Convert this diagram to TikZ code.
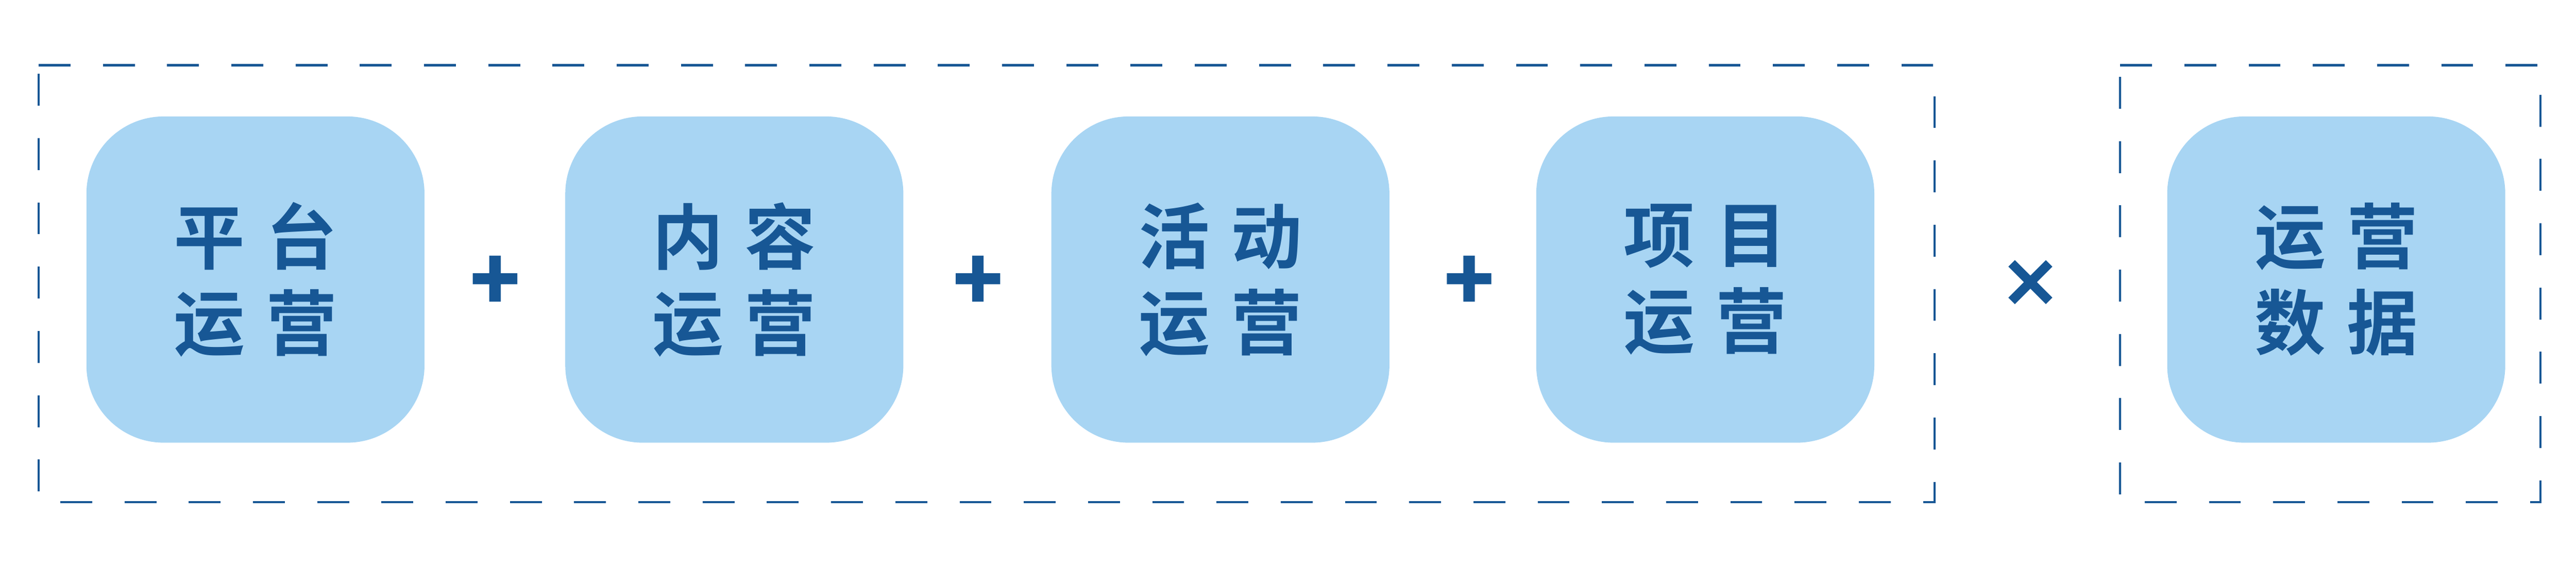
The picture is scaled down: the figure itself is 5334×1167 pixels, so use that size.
\documentclass[tikz,border=0pt]{standalone}
\usepackage{fontspec}
\newfontfamily\cjk{Noto Sans CJK SC}[BoldFont={Noto Sans CJK SC Bold}]
\newfontfamily\opfont{Noto Sans CJK SC}[BoldFont={Noto Sans CJK SC Bold}, FakeBold=3]
\newfontfamily\mulfont{Noto Sans CJK SC}[BoldFont={Noto Sans CJK SC Bold}, FakeBold=5]
\definecolor{dblue}{HTML}{175795}
\definecolor{lblue}{HTML}{A8D5F3}
\tikzset{
  card/.style={fill=lblue, draw=none, rounded corners=32pt, minimum width=140pt, minimum height=135pt, inner sep=0pt, text=dblue, align=center, font=\cjk\bfseries\fontsize{29.4}{35.6}\selectfont},
  opsign/.style={text=dblue, inner sep=0pt, font=\opfont\bfseries\fontsize{34}{34}\selectfont},
  timessign/.style={text=dblue, inner sep=0pt, font=\mulfont\bfseries\fontsize{25}{25}\selectfont},
  frame/.style={draw=dblue, line width=0.92pt, dash pattern=on 13.2pt off 13.4pt}
}
\begin{document}
\begin{tikzpicture}[x=0.2pt, y=-0.2pt]
\useasboundingbox (0,0) rectangle (5334,1167);
% frames
\coordinate (fa1) at (80,135);
\coordinate (fa2) at (4006,135);
\coordinate (fa3) at (4006,1039);
\coordinate (fa4) at (80,1039);
\coordinate (fb1) at (4390,135);
\coordinate (fb2) at (5260,135);
\coordinate (fb3) at (5260,1039);
\coordinate (fb4) at (4390,1039);
\draw[frame] (fa1) -- (fa2) -- (fa3) -- (fa4) -- cycle;
\draw[frame] (fb1) -- (fb2) -- (fb3) -- (fb4) -- cycle;
% cards
\node[card] (c1) at (529,578.5) {平\kern0.3em台\\运\kern0.3em营};
\node[card] (c2) at (1520.5,578.5) {内\kern0.3em容\\运\kern0.3em营};
\node[card] (c3) at (2527,578.5) {活\kern0.3em动\\运\kern0.3em营};
\node[card] (c4) at (3531,578.5) {项\kern0.3em目\\运\kern0.3em营};
\node[card] (c5) at (4837.5,578.5) {运\kern0.3em营\\数\kern0.3em据};
% operators
\node[opsign] (p1) at (1025,586) {+};
\node[opsign] (p2) at (2025,586) {+};
\node[opsign] (p3) at (3042,586) {+};
\node[timessign] (m1) at (4204,587) {×};
\end{tikzpicture}
\end{document}
